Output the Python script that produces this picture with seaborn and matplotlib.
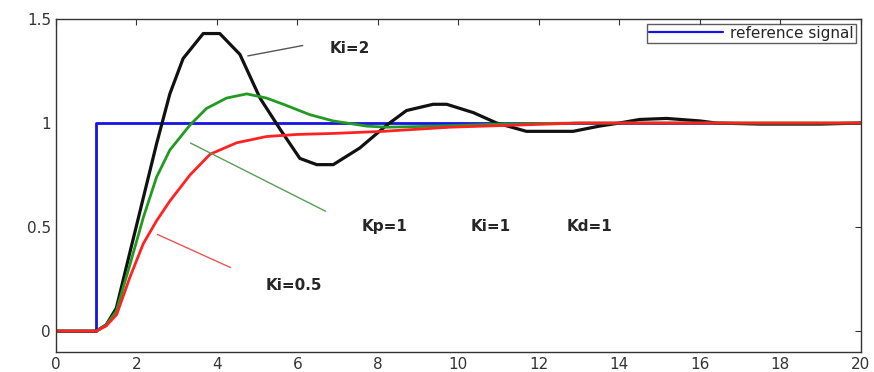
import numpy as np
import pandas as pd
import seaborn as sns
import matplotlib
matplotlib.use("Agg")
import matplotlib.pyplot as plt
from matplotlib.lines import Line2D

# respuesta al escalon con distintos Ki
t_ref = [0, 1, 1, 20]
y_ref = [0, 0, 1, 1]

t_ki2 = [0, 1.0, 1.25, 1.5, 1.84, 2.17, 2.5, 2.83, 3.16, 3.66, 4.07, 4.57, 5.07, 5.57,
         6.06, 6.48, 6.89, 7.55, 8.22, 8.71, 9.37, 9.71, 10.37, 10.95, 11.69, 12.85,
         13.5, 14.0, 14.5, 15.17, 16.0, 16.4, 17.5, 19.0, 20]
y_ki2 = [0, 0, 0.03, 0.11, 0.38, 0.64, 0.90, 1.14, 1.31, 1.43, 1.43, 1.33, 1.12, 0.97,
         0.83, 0.80, 0.80, 0.88, 0.99, 1.06, 1.09, 1.09, 1.05, 1.00, 0.96, 0.96,
         0.985, 1.0, 1.017, 1.022, 1.01, 1.0, 0.995, 0.995, 1.0]

t_ki1 = [0, 1.0, 1.25, 1.5, 1.84, 2.17, 2.5, 2.83, 3.33, 3.74, 4.24, 4.74, 5.23, 5.65,
         6.31, 6.89, 7.72, 8.22, 9.5, 11, 13, 20]
y_ki1 = [0, 0, 0.03, 0.096, 0.32, 0.545, 0.74, 0.87, 0.99, 1.07, 1.12, 1.14, 1.12, 1.09,
         1.04, 1.01, 0.985, 0.98, 0.985, 0.995, 1.0, 1.0]

t_ki05 = [0, 1.0, 1.25, 1.51, 1.84, 2.17, 2.5, 2.83, 3.33, 3.83, 4.49, 5.23, 5.98, 6.89,
          8.13, 9.79, 11.45, 13, 20]
y_ki05 = [0, 0, 0.025, 0.08, 0.26, 0.42, 0.53, 0.625, 0.75, 0.85, 0.905, 0.935, 0.945, 0.95,
          0.96, 0.98, 0.99, 1.0, 1.0]

xticks = list(range(0, 21, 2))
yticks = [0, 0.5, 1, 1.5]

sns.set_style("white")
plt.rcParams['font.family'] = ['DejaVu Sans']

fig = plt.figure(figsize=(8.74, 3.72), dpi=100)
ax = fig.add_axes([0.064, 0.054, 0.921, 0.895])

series = [
    (t_ref, y_ref, "#1414e6", 2.0),
    (t_ki2, y_ki2, "#111111", 2.3),
    (t_ki1, y_ki1, "#229a22", 2.0),
    (t_ki05, y_ki05, "#ff2222", 2.0),
]
for tt, yy, col, lw in series:
    df = pd.DataFrame({"t": tt, "y": yy})
    sns.lineplot(data=df, x="t", y="y", color=col, linewidth=lw,
                 estimator=None, sort=False, ax=ax, legend=False)

# lineas guia hacia las etiquetas
ax.annotate("", xy=(4.7, 1.32), xytext=(6.2, 1.375),
            arrowprops=dict(arrowstyle="-", color="#555555", lw=1))
ax.annotate("", xy=(3.28, 0.91), xytext=(6.76, 0.57),
            arrowprops=dict(arrowstyle="-", color="#55a055", lw=1))
ax.annotate("", xy=(2.46, 0.47), xytext=(4.4, 0.30),
            arrowprops=dict(arrowstyle="-", color="#ee5555", lw=1))

ax.text(6.8, 1.36, "Ki=2", fontsize=11, fontweight="bold", va="center")
ax.text(5.2, 0.22, "Ki=0.5", fontsize=11, fontweight="bold", va="center")
ax.text(7.6, 0.505, "Kp=1", fontsize=11, fontweight="bold", va="center")
ax.text(10.3, 0.505, "Ki=1", fontsize=11, fontweight="bold", va="center")
ax.text(12.7, 0.505, "Kd=1", fontsize=11, fontweight="bold", va="center")

ax.set_xlim(0, 20)
ax.set_ylim(-0.1, 1.5)
ax.set_xticks(xticks)
ax.set_yticks(yticks)
ax.set_yticklabels(["0", "0.5", "1", "1.5"])
ax.set_xlabel("")
ax.set_ylabel("")
ax.tick_params(direction="in", top=True, right=True, length=4, width=0.8,
               labelsize=11, labelcolor="#333333", color="#333333")
for s in ax.spines.values():
    s.set_color("#333333")
    s.set_linewidth(1)

h = [Line2D([0], [0], color="#1414e6", lw=1.6)]
leg = ax.legend(h, ["reference signal"], loc="upper right", fontsize=11,
                frameon=True, fancybox=False, borderaxespad=0.3,
                handlelength=4.8, handletextpad=0.5, borderpad=0.15)
leg.get_frame().set_edgecolor("#333333")
leg.get_frame().set_linewidth(1)

fig.savefig("out.png", dpi=100)
